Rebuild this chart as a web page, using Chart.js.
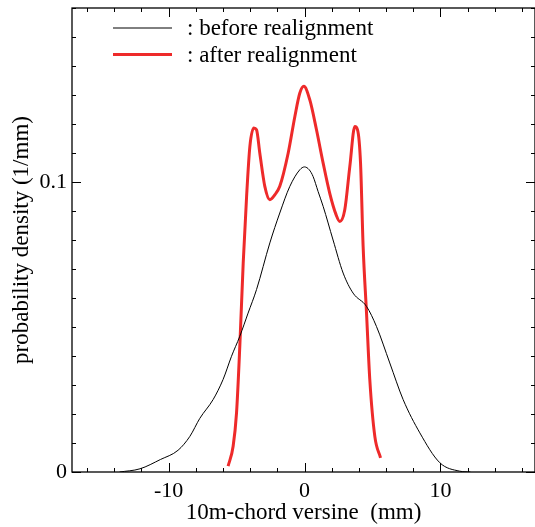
<!DOCTYPE html>
<html>
<head>
<meta charset="utf-8">
<script src="https://cdn.jsdelivr.net/npm/chart.js@4"></script>
<style>
  html, body { margin: 0; padding: 0; background: #fff; }
  #wrap { width: 535px; height: 527px; }
</style>
</head>
<body>
<div id="wrap"><canvas id="dens"></canvas></div>
<script>
// before realignment (thin black)
const beforeX = [-13.6, -12.1, -10.6, -9.3, -8.43, -7.7, -6.72, -5.99, -5.37, -4.76, -4.15, -3.53, -2.55, -1.82, -1.08, -0.35, 0, 0.35, 0.63, 1.0, 1.37, 2.1, 2.84, 3.57, 4.56, 5.29, 6.27, 7.25, 8.48, 9.95, 11.4, 12.2];
const beforeY = [0, 0.0011, 0.0043, 0.0075, 0.0123, 0.0185, 0.025, 0.0319, 0.0399, 0.0468, 0.0548, 0.0629, 0.079, 0.0893, 0.0985, 0.1042, 0.1052, 0.1042, 0.1019, 0.0967, 0.0916, 0.080, 0.0686, 0.0617, 0.0571, 0.0502, 0.0376, 0.025, 0.0135, 0.0032, 0.0003, 0];

// after realignment (thick red)
const afterX = [-5.62, -5.25, -5.0, -4.76, -4.51, -4.26, -4.02, -3.73, -3.53, -3.29, -2.92, -2.55, -2.18, -1.82, -1.2, -0.71, -0.35, -0.05, 0.39, 0.88, 1.37, 1.86, 2.3, 2.6, 2.96, 3.33, 3.7, 3.9, 4.12, 4.31, 4.56, 4.8, 5.17, 5.59];
const afterY = [0.002, 0.0089, 0.0204, 0.0433, 0.072, 0.095, 0.1122, 0.1186, 0.118, 0.11, 0.0985, 0.0939, 0.0956, 0.0985, 0.11, 0.1226, 0.1306, 0.133, 0.1283, 0.118, 0.1065, 0.096, 0.089, 0.0864, 0.0904, 0.1053, 0.1191, 0.118, 0.1065, 0.0778, 0.0548, 0.0319, 0.0123, 0.0049];

const xLabels = [-10, 0, 10];
const yLabels = [0, 0.1];

const serif = "'Liberation Serif', 'DejaVu Serif', serif";

const pts = (xs, ys) => xs.map((x, i) => ({ x: x, y: ys[i] }));

// inward ticks on all four sides + frame + legend
const frameTicks = {
    id: 'frameTicks',
    afterDraw(chart) {
        const ctx = chart.ctx;
        const a = chart.chartArea;
        const xs = chart.scales.x, ys = chart.scales.y;
        ctx.save();
        ctx.strokeStyle = '#000';
        ctx.lineWidth = 1;
        ctx.beginPath();
        for (let v = -16; v <= 16; v += 2) {
            const px = Math.round(xs.getPixelForValue(v)) + 0.5;
            const len = (v % 10 === 0) ? 9 : 4;
            ctx.moveTo(px, a.bottom); ctx.lineTo(px, a.bottom - len);
            ctx.moveTo(px, a.top); ctx.lineTo(px, a.top + len);
        }
        for (let i = 0; i <= 16; i++) {
            const py = Math.round(ys.getPixelForValue(i / 100)) + 0.5;
            const len = (i % 10 === 0) ? 9 : 4;
            ctx.moveTo(a.left, py); ctx.lineTo(a.left + len, py);
            ctx.moveTo(a.right, py); ctx.lineTo(a.right - len, py);
        }
        ctx.stroke();
        ctx.lineWidth = 1.3;
        ctx.strokeRect(a.left, a.top, a.right - a.left, a.bottom - a.top);

        // legend
        ctx.font = '23px ' + serif;
        ctx.textBaseline = 'middle';
        ctx.fillStyle = '#000';
        const rows = [28, 54.5];
        chart.data.datasets.forEach((ds, i) => {
            ctx.strokeStyle = ds.borderColor;
            ctx.lineWidth = ds.borderWidth;
            ctx.beginPath();
            ctx.moveTo(113, rows[i]); ctx.lineTo(172, rows[i]);
            ctx.stroke();
            ctx.fillText(': ' + ds.label, 187, rows[i] + 1);
        });
        ctx.restore();
    }
};

const config = {
    type: 'line',
    data: {
        datasets: [{
            label: 'before realignment',
            data: pts(beforeX, beforeY),
            borderColor: '#000000',
            borderWidth: 1,
            pointRadius: 0,
            cubicInterpolationMode: 'monotone'
        },
        {
            label: 'after realignment',
            data: pts(afterX, afterY),
            borderColor: '#ee2a2a',
            borderWidth: 3,
            pointRadius: 0,
            cubicInterpolationMode: 'monotone'
        }]
    },
    options: {
        responsive: true,
        maintainAspectRatio: false,
        animation: false,
        layout: { padding: { top: 8, right: 0, left: 0, bottom: 0 } },
        plugins: {
            legend: { display: false },
            tooltip: { enabled: false }
        },
        scales: {
            x: {
                type: 'linear',
                min: -17.1,
                max: 16.95,
                afterFit: (s) => { s.height = 55; s.paddingLeft = 0; s.paddingRight = 0; },
                grid: { display: false, drawTicks: false },
                border: { display: false },
                ticks: {
                    stepSize: 2,
                    autoSkip: false,
                    maxRotation: 0,
                    padding: 6,
                    color: '#000',
                    font: { family: serif, size: 22 },
                    callback: (v) => xLabels.includes(v) ? String(v) : ''
                },
                title: {
                    display: true,
                    text: '10m-chord versine  (mm)',
                    color: '#000',
                    font: { family: serif, size: 23 },
                    padding: { top: 0, bottom: 0 }
                }
            },
            y: {
                type: 'linear',
                min: 0,
                max: 0.16,
                afterFit: (s) => { s.width = 72; s.paddingTop = 0; s.paddingBottom = 0; },
                grid: { display: false, drawTicks: false },
                border: { display: false },
                ticks: {
                    stepSize: 0.01,
                    autoSkip: false,
                    padding: 5,
                    color: '#000',
                    font: { family: serif, size: 22 },
                    callback: (v) => {
                        const hit = yLabels.find(t => Math.abs(t - v) < 1e-9);
                        return hit === undefined ? '' : String(hit);
                    }
                },
                title: {
                    display: true,
                    text: 'probability density (1/mm)',
                    color: '#000',
                    font: { family: serif, size: 23 },
                    padding: { top: 8, bottom: 0 }
                }
            }
        }
    },
    plugins: [frameTicks]
};

const myChart = new Chart(document.getElementById('dens'), config);
</script>
</body>
</html>
